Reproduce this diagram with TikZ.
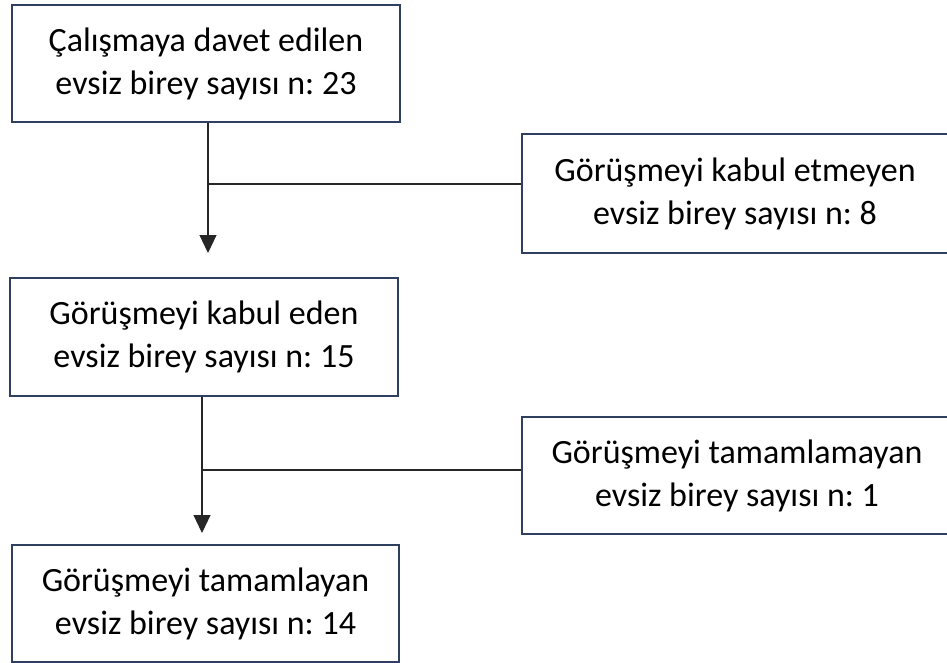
\documentclass[tikz,border=0pt]{standalone}
\usepackage{fontspec}
\setmainfont{Carlito}
\usetikzlibrary{arrows.meta}
\definecolor{boxline}{HTML}{2F3F60}
\tikzset{
    flowbox/.style={draw=boxline, line width=1.6pt, align=center, inner sep=0pt,
        font=\fontsize{34}{43}\selectfont\frenchspacing},
    flowline/.style={draw=black!85, line width=1.1pt},
    flowarrow/.style={flowline, -{Triangle[width=17pt,length=18pt]}}
}
\begin{document}
\begin{tikzpicture}[x=1pt, y=-1pt]
        \useasboundingbox (0, 0) rectangle (947, 663);
        \node[flowbox, minimum width=388pt, minimum height=117pt] (invited) at (206, 63.5) {Çalışmaya davet edilen\\evsiz birey sayısı n: 23};
        \node[flowbox, minimum width=426pt, minimum height=119pt] (refused) at (735, 193.5) {Görüşmeyi kabul etmeyen\\evsiz birey sayısı n: 8};
        \node[flowbox, minimum width=388pt, minimum height=118pt] (accepted) at (204, 337) {Görüşmeyi kabul eden\\evsiz birey sayısı n: 15};
        \node[flowbox, minimum width=430pt, minimum height=117pt] (dropped) at (737, 475.5) {Görüşmeyi tamamlamayan\\evsiz birey sayısı n: 1};
        \node[flowbox, minimum width=387pt, minimum height=117pt] (completed) at (205.5, 603.5) {Görüşmeyi tamamlayan\\evsiz birey sayısı n: 14};
        \coordinate (tipA) at (208, 253);
        \coordinate (forkA) at (208, 184);
        \coordinate (tipB) at (202, 533);
        \coordinate (forkB) at (202, 470);
        \draw [flowarrow] (tipA |- invited.south) -- (tipA);
        \draw [flowline] (forkA) -- (forkA -| refused.west);
        \draw [flowarrow] (tipB |- accepted.south) -- (tipB);
        \draw [flowline] (forkB) -- (forkB -| dropped.west);
    \end{tikzpicture}
\end{document}
